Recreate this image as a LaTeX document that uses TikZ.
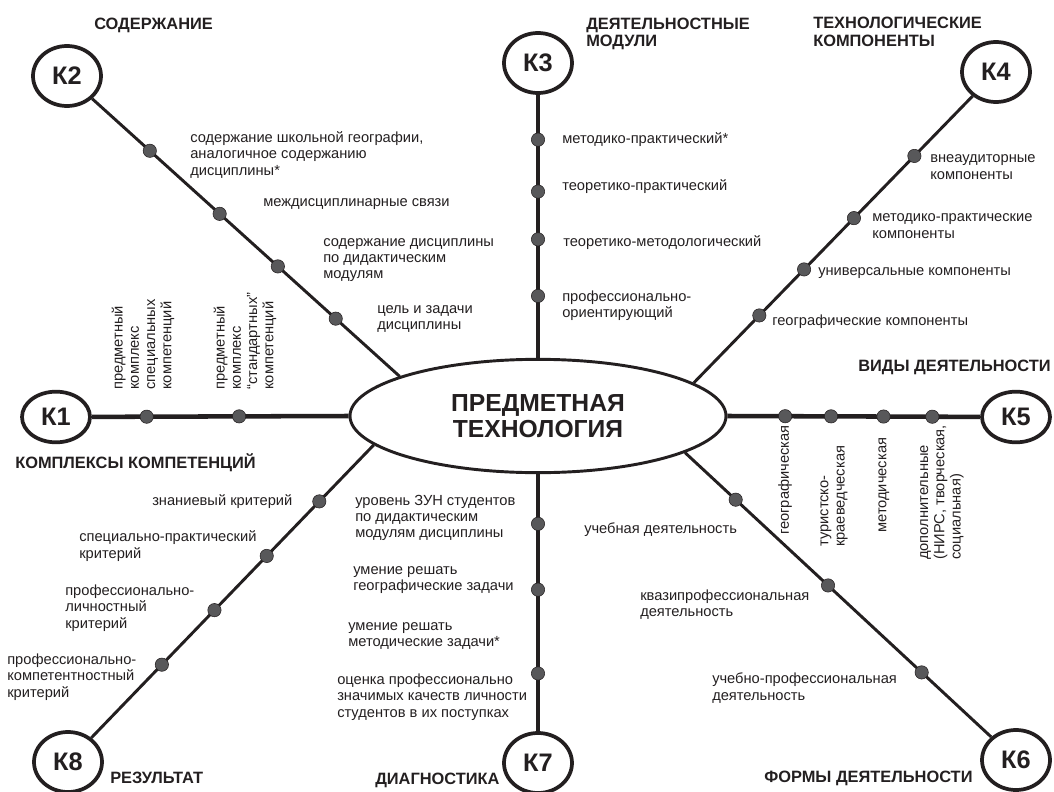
\documentclass[tikz,border=0pt]{standalone}
\usepackage{fontspec}
\setmainfont{Liberation Sans}
\usetikzlibrary{shapes.geometric,calc}
\definecolor{ink}{HTML}{231F20}
\definecolor{dotgray}{HTML}{58585A}

\begin{document}
\begin{tikzpicture}
[ x=0.75pt, y=-0.75pt, text=ink, draw=ink
, kcircle/.style={ellipse, draw, line width=2.8pt, fill=white, minimum width=51pt, minimum height=45pt, inner sep=0pt, font=\bfseries\fontsize{19}{19}\selectfont}
, flat/.style={minimum height=38pt}
, hub/.style={ellipse, draw, line width=2.2pt, fill=white, minimum width=282pt, minimum height=85pt, align=center, font=\bfseries\fontsize{18.5}{19}\selectfont}
, spoke/.style={line width=2.2pt}
, mainline/.style={line width=3pt}
, dot/.style={circle, draw, thin, fill=dotgray, minimum size=10pt, inner sep=0pt}
, heading/.style={anchor=west, align=left, inner sep=0pt, font=\bfseries\fontsize{12.3}{13}\selectfont}
, item/.style={anchor=west, align=left, inner sep=0pt, font=\fontsize{11}{12.2}\selectfont}
, upitem/.style={item, rotate=90}
]
\useasboundingbox (0,0) rectangle (1054,792);
% Centre and circles:
\node (tech) [hub] at (538,416) {ПРЕДМЕТНАЯ\\ТЕХНОЛОГИЯ};
\node (k1) [kcircle, flat] at (56,417) {К1};
\node (k2) [kcircle] at (67,76) {К2};
\node (k3) [kcircle] at (538,63) {К3};
\node (k4) [kcircle] at (996,72) {К4};
\node (k5) [kcircle, flat] at (1016,417) {К5};
\node (k6) [kcircle] at (1016,760) {К6};
\node (k7) [kcircle] at (538,763) {К7};
\node (k8) [kcircle] at (68,762) {К8};
% Spokes:
\draw [mainline, line width=3.4pt] (k1) -- (tech.180);
\draw [spoke] (k2) -- (tech.164);
\draw [mainline] (k3) -- (tech.90);
\draw [spoke] (k4) -- (tech.12);
\draw [mainline, line width=3.4pt] (k5) -- (tech.0);
\draw [spoke] (k6) -- (tech.346);
\draw [mainline] (k7) -- (tech.270);
\draw [spoke] (k8) -- (tech.190);
% K1:
\node (d11) [dot] at ($(k1)!0.31!(tech.180)$) {};
\node (d12) [dot] at ($(k1)!0.626!(tech.180)$) {};
\node (t1) [heading] at (15,463) {КОМПЛЕКСЫ КОМПЕТЕНЦИЙ};
\node (l11) [upitem] at (143,390) {предметный\\комплекс\\специальных\\компетенций};
\node (l12) [upitem] at (245,390) {предметный\\комплекс\\“стандартных”\\компетенций};
% K2:
\node (d21) [dot] at ($(k2)!0.249!(tech.164)$) {};
\node (d22) [dot] at ($(k2)!0.459!(tech.164)$) {};
\node (d23) [dot] at ($(k2)!0.634!(tech.164)$) {};
\node (d24) [dot] at ($(k2)!0.808!(tech.164)$) {};
\node (t2) [heading] at (94,25) {СОДЕРЖАНИЕ};
\node (l21) [item] at (190,155) {содержание школьной географии,\\аналогичное содержанию\\дисциплины*};
\node (l22) [item] at (263,204) {междисциплинарные связи};
\node (l23) [item] at (323,260) {содержание дисциплины\\по дидактическим\\модулям};
\node (l24) [item] at (377,319) {цель и задачи\\дисциплины};
% K3:
\node (d31) [dot] at ($(k3)!0.26!(tech.90)$) {};
\node (d32) [dot] at ($(k3)!0.436!(tech.90)$) {};
\node (d33) [dot] at ($(k3)!0.598!(tech.90)$) {};
\node (d34) [dot] at ($(k3)!0.79!(tech.90)$) {};
\node (t3) [heading] at (586,34) {ДЕЯТЕЛЬНОСТНЫЕ\\МОДУЛИ};
\node (l31) [item] at (562,140) {методико-практический*};
\node (l32) [item] at (562,187) {теоретико-практический};
\node (l33) [item] at (563,243) {теоретико-методологический};
\node (l34) [item] at (562,306) {профессионально-\\ориентирующий};
% K4:
\node (d41) [dot] at ($(k4)!0.27!(tech.12)$) {};
\node (d42) [dot] at ($(k4)!0.47!(tech.12)$) {};
\node (d43) [dot] at ($(k4)!0.635!(tech.12)$) {};
\node (d44) [dot] at ($(k4)!0.783!(tech.12)$) {};
\node (t4) [heading] at (813,32) {ТЕХНОЛОГИЧЕСКИЕ\\КОМПОНЕНТЫ};
\node (l41) [item] at (930,167) {внеаудиторные\\компоненты};
\node (l42) [item] at (872,226) {методико-практические\\компоненты};
\node (l43) [item] at (818,273) {универсальные компоненты};
\node (l44) [item] at (772,322) {географические компоненты};
% K5:
\node (d51) [dot] at ($(k5)!0.8!(tech.0)$) {};
\node (d52) [dot] at ($(k5)!0.641!(tech.0)$) {};
\node (d53) [dot] at ($(k5)!0.459!(tech.0)$) {};
\node (d54) [dot] at ($(k5)!0.29!(tech.0)$) {};
\node (t5) [heading] at (858,367) {ВИДЫ ДЕЯТЕЛЬНОСТИ};
\node (l51) [upitem] at (785,535) {географическая};
\node (l52) [upitem] at (834,547) {туристско-\\краеведческая};
\node (l53) [upitem] at (884,533) {методическая};
\node (l54) [upitem] at (942,560) {дополнительные\\(НИРС, творческая,\\социальная)};
% K6:
\node (d61) [dot] at ($(k6)!0.847!(tech.346)$) {};
\node (d62) [dot] at ($(k6)!0.568!(tech.346)$) {};
\node (d63) [dot] at ($(k6)!0.285!(tech.346)$) {};
\node (t6) [heading] at (764,778) {ФОРМЫ ДЕЯТЕЛЬНОСТИ};
\node (l61) [item] at (584,530) {учебная деятельность};
\node (l62) [item] at (640,605) {квазипрофессиональная\\деятельность};
\node (l63) [item] at (712,688) {учебно-профессиональная\\деятельность};
% K7:
\node (d71) [dot] at ($(k7)!0.828!(tech.270)$) {};
\node (d72) [dot] at ($(k7)!0.6!(tech.270)$) {};
\node (d73) [dot] at ($(k7)!0.31!(tech.270)$) {};
\node (t7) [heading] at (375,780) {ДИАГНОСТИКА};
\node (l71) [item] at (355,518) {уровень ЗУН студентов\\по дидактическим\\модулям дисциплины};
\node (l72) [item] at (353,580) {умение решать\\географические задачи};
\node (l73) [item] at (348,636) {умение решать\\методические задачи*};
\node (l74) [item] at (337,697) {оценка профессионально\\значимых качеств личности\\студентов в их поступках};
% K8:
\node (d81) [dot] at ($(k8)!0.822!(tech.190)$) {};
\node (d82) [dot] at ($(k8)!0.65!(tech.190)$) {};
\node (d83) [dot] at ($(k8)!0.479!(tech.190)$) {};
\node (d84) [dot] at ($(k8)!0.307!(tech.190)$) {};
\node (t8) [heading] at (110,778) {РЕЗУЛЬТАТ};
\node (l81) [item] at (152,502) {знаниевый критерий};
\node (l82) [item] at (79,546) {специально-практический\\критерий};
\node (l83) [item] at (65,608) {профессионально-\\личностный\\критерий};
\node (l84) [item] at (7,677) {профессионально-\\компетентностный\\критерий};
\end{tikzpicture}
\end{document}
